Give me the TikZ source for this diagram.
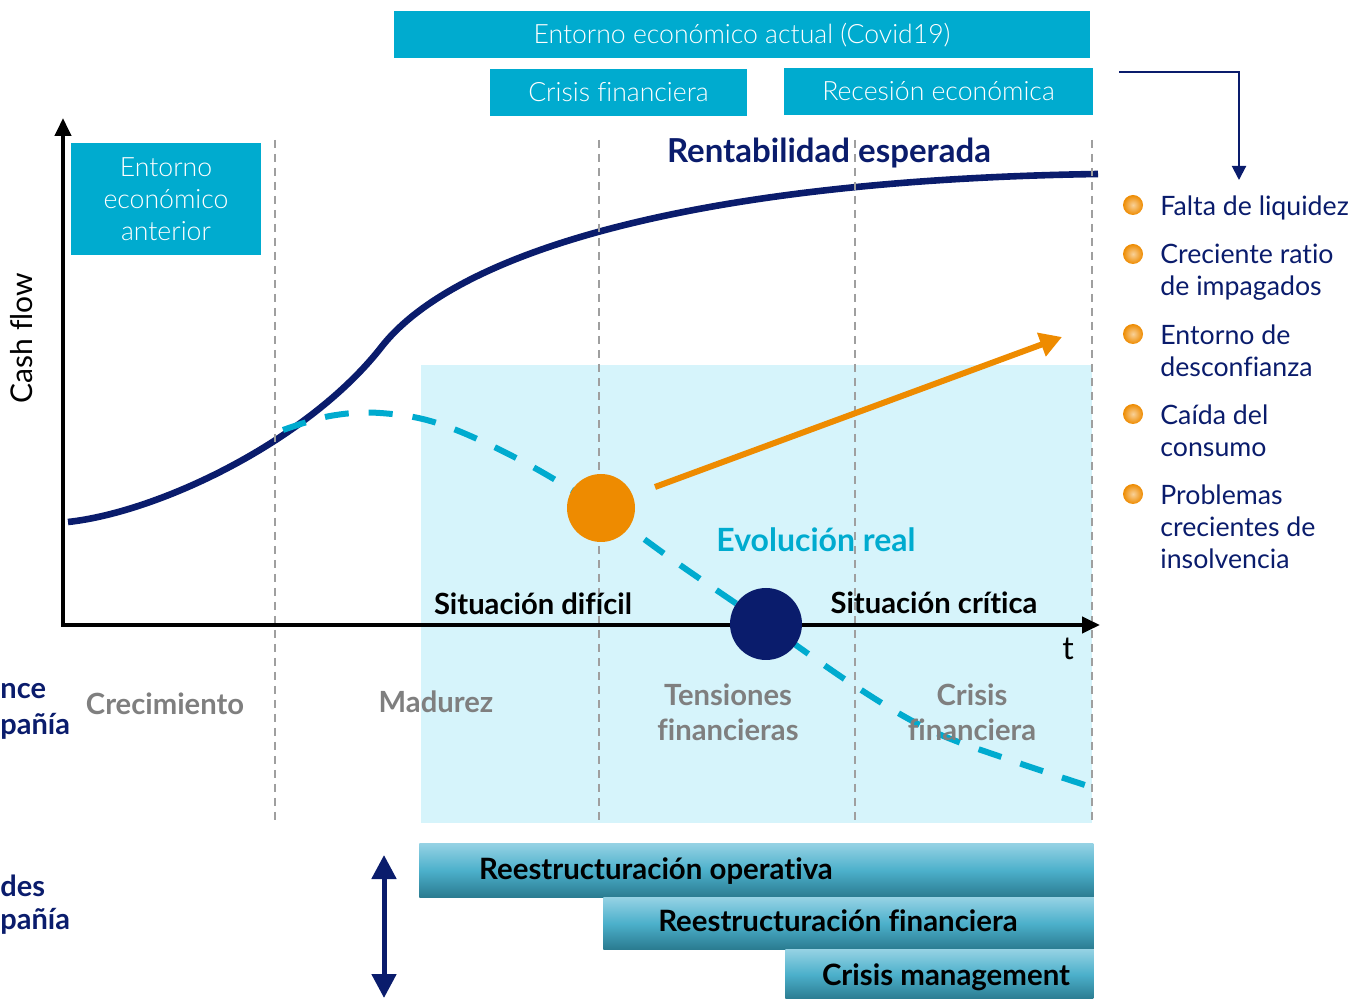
\documentclass[tikz,border=0pt]{standalone}
\usepackage{fontspec}
\setmainfont{Lato}[Ligatures=NoCommon]
\newfontfamily\lightfont{Lato Light}[Ligatures=NoCommon]
\usetikzlibrary{arrows.meta}
\definecolor{navyblue}{HTML}{0A1C6C}
\definecolor{boxcyan}{HTML}{00ABCF}
\definecolor{paleblue}{HTML}{D6F4FB}
\definecolor{warnorange}{HTML}{EE8B00}
\definecolor{phasegray}{HTML}{7F7F7F}
\definecolor{bartop}{HTML}{95D2E4}
\definecolor{barmid}{HTML}{4CB0CB}
\definecolor{barbottom}{HTML}{2A7B90}
\newcommand*\fsize[1]{\fontsize{#1}{#1}\selectfont}

\begin{document}
\begin{tikzpicture}[x=0.5pt,y=-0.5pt,line cap=butt,
    envbox/.style={fill=boxcyan,text=white,inner sep=0pt,font=\lightfont\fontsize{13.3}{16}\selectfont},
    barbox/.style={anchor=north west,inner sep=0pt,top color=bartop,bottom color=barbottom,middle color=barmid},
    bartext/.style={font=\bfseries\fontsize{14.7}{16}\selectfont},
    phase/.style={text=phasegray,align=center,font=\bfseries\fontsize{14.6}{17.5}\selectfont},
    situation/.style={font=\bfseries\fontsize{14.6}{15}\selectfont},
    sidetext/.style={text=navyblue,anchor=west,inner sep=0pt,font=\bfseries\fontsize{14.5}{16}\selectfont},
    bullettext/.style={text=navyblue,anchor=north west,align=left,inner sep=0pt,font=\fontsize{13.35}{16}\selectfont}]
    \useasboundingbox (0,0) rectangle (1366,999);
    % top boxes
    \node[envbox,minimum width=348pt,minimum height=23.5pt] (actual) at (742,35) {Entorno económico actual (Covid19)};
    \node[envbox,minimum width=128.5pt,minimum height=23.5pt] (crisisFin) at (618.5,92.5) {Crisis financiera};
    \node[envbox,minimum width=154.5pt,minimum height=23.5pt] (recesion) at (938.5,91.5) {Recesión económica};
    \node[envbox,minimum width=95pt,minimum height=56pt,align=center] (anterior) at (166,199) {Entorno\\económico\\anterior};
    % shaded region
    \fill[paleblue] (421,365) rectangle (1092,823);
    % expected and real curves
    \draw[navyblue,line width=3.3pt] (68,522) .. controls (160,512) and (310,440) .. (383,345)
        .. controls (460,250) and (700,180) .. (1098,174);
    \draw[boxcyan,line width=3pt,dash pattern=on 12pt off 10pt] plot[smooth,tension=0.6] coordinates
        {(283,430) (330,416) (380,413) (440,424) (520,460) (600,508) (680,565) (766,624) (855,686) (930,730) (1010,760) (1085,785)};
    % phase separators
    \foreach \px in {275,599,855,1092}{
        \draw[gray!75,line width=1pt,dash pattern=on 4pt off 3pt] (\px,140) -- (\px,825);
    }
    % axes
    \draw[line width=2pt,-{Triangle[length=9pt,width=8pt]}] (63,625) -- (63,118);
    \draw[line width=2pt,-{Triangle[length=9pt,width=8pt]}] (61,625) -- (1100,625);
    \node[rotate=90,font=\fsize{15}] (cashflow) at (22,338) {Cash flow};
    \node[font=\fsize{16}] (tlabel) at (1068,649) {t};
    % markers
    \node[circle,fill=warnorange,minimum size=34pt,inner sep=0pt] (warnDot) at (601,508) {};
    \node[circle,fill=navyblue,minimum size=36pt,inner sep=0pt] (critDot) at (766,624) {};
    \coordinate (arrowStart) at (655,487);
    \coordinate (arrowEnd) at (1062,337);
    \draw[warnorange,line width=3pt,-{Triangle[length=11pt,width=12pt]}] (arrowStart) -- (arrowEnd);
    % curve labels
    \node[text=navyblue,font=\bfseries\fsize{16.5}] (rentab) at (829,153) {Rentabilidad esperada};
    \node[text=boxcyan,font=\bfseries\fsize{16}] (evol) at (816,540) {Evolución real};
    \node[situation] (dificil) at (533,604) {Situación difícil};
    \node[situation] (critica) at (934,603) {Situación crítica};
    % phases
    \node[phase] (crec) at (165,704) {Crecimiento};
    \node[phase] (madurez) at (436,702) {Madurez};
    \node[phase] (tensiones) at (728,712) {Tensiones\\financieras};
    \node[phase] (crisisPh) at (972,712) {Crisis\\financiera};
    % side labels
    \node[sidetext] (perfA) at (0,691) {nce};
    \node[sidetext] (perfB) at (0,726) {pañía};
    \node[sidetext] (needA) at (0,886) {des};
    \node[sidetext] (needB) at (0,921) {pañía};
    % restructuring bars
    \node[barbox,minimum width=337pt,minimum height=27pt] (opBar) at (419,843) {};
    \node[barbox,minimum width=245pt,minimum height=26pt] (finBar) at (603,897) {};
    \node[barbox,minimum width=154pt,minimum height=25pt] (mgmtBar) at (785,949) {};
    \node[bartext] at (656,871) {Reestructuración operativa};
    \node[bartext] at (838,921) {Reestructuración financiera};
    \node[bartext] at (946,977) {Crisis management};
    \coordinate (spanTop) at (384,855);
    \coordinate (spanBot) at (384,998);
    \draw[navyblue,line width=2.5pt,{Triangle[length=12pt,width=12pt]}-{Triangle[length=12pt,width=12pt]}] (spanTop) -- (spanBot);
    % causes
    \coordinate (elbowStart) at (1119,72);
    \coordinate (elbowEnd) at (1239,180);
    \draw[navyblue,line width=1pt,-{Triangle[length=7pt,width=7pt]}] (elbowStart) -| (elbowEnd);
    \foreach \by/\btxt in {205/{Falta de liquidez},254/{Creciente ratio\\de impagados},334/{Entorno de\\desconfianza},414/{Caída del\\consumo},494/{Problemas\\crecientes de\\insolvencia}}{
        \shade[inner color=warnorange!40,outer color=warnorange] (1133,\by) circle[radius=5pt];
        \node[bullettext] at (1160,\by-10) {\btxt};
    }
\end{tikzpicture}
\end{document}
